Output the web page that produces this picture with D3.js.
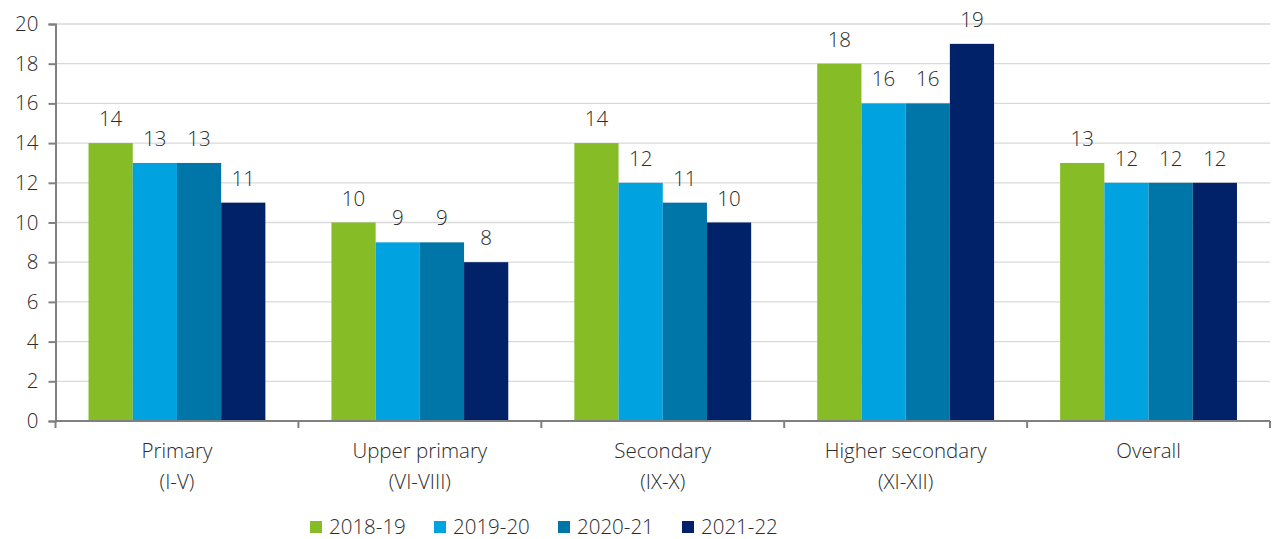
<!DOCTYPE html>
<html>
<head>
<meta charset="utf-8">
<script src="https://cdn.jsdelivr.net/npm/d3@7"></script>
<style>
  body { margin: 0; background: #fff; }
  svg text { font-family: "Open Sans", sans-serif; font-weight: 300; fill: #2b2b2b; }
</style>
</head>
<body>
<div id="chart"></div>
<script>
// Chart data
var categories = [["Primary", "(I-V)"], ["Upper primary", "(VI-VIII)"], ["Secondary", "(IX-X)"], ["Higher secondary", "(XI-XII)"], ["Overall", ""]];
var seriesNames = ["2018-19", "2019-20", "2020-21", "2021-22"];
var seriesColors = ["#86bc25", "#00a3e0", "#0076a8", "#012169"];
var values2018 = [14, 10, 14, 18, 13];
var values2019 = [13, 9, 12, 16, 12];
var values2020 = [13, 9, 11, 16, 12];
var values2021 = [11, 8, 10, 19, 12];
var yTicks = [0, 2, 4, 6, 8, 10, 12, 14, 16, 18, 20];

var allSeries = [values2018, values2019, values2020, values2021];

// SVG size
var svgWidth = 1274;
var svgHeight = 539;
var margin = { top: 24, right: 4, bottom: 118, left: 55.5 };
var plotWidth = svgWidth - margin.left - margin.right;
var plotHeight = svgHeight - margin.top - margin.bottom;
var fontSize = 20.5;

var svg = d3.select("#chart").append("svg")
  .attr("width", svgWidth)
  .attr("height", svgHeight);

var g = svg.append("g")
  .attr("transform", `translate(${margin.left},${margin.top})`);

// Scales
var x0 = d3.scaleBand()
  .domain(d3.range(categories.length))
  .range([0, plotWidth])
  .paddingInner(0.272)
  .paddingOuter(0.136);

var bandStep = plotWidth / categories.length;
var x1 = d3.scaleBand()
  .domain(d3.range(seriesNames.length))
  .range([0, x0.bandwidth()]);

var y = d3.scaleLinear().domain([0, 20]).range([plotHeight, 0]);

// Gridlines
g.selectAll(".grid").data(yTicks.slice(1)).enter().append("line")
  .attr("x1", 0).attr("x2", plotWidth)
  .attr("y1", d => y(d)).attr("y2", d => y(d))
  .attr("stroke", "#d9d9d9").attr("stroke-width", 1.3);

// Bars
allSeries.forEach((vals, s) => {
  g.selectAll(".bar" + s).data(vals).enter().append("rect")
    .attr("x", (d, i) => x0(i) + x1(s))
    .attr("y", d => y(d))
    .attr("width", x1.bandwidth())
    .attr("height", d => plotHeight - y(d))
    .attr("fill", seriesColors[s]);

  g.selectAll(".label" + s).data(vals).enter().append("text")
    .attr("x", (d, i) => x0(i) + x1(s) + x1.bandwidth() / 2)
    .attr("y", d => y(d) - 17)
    .attr("text-anchor", "middle")
    .attr("font-size", fontSize)
    .text(d => d);
});

// Y axis
var yAxis = g.append("g")
  .call(d3.axisLeft(y).tickValues(yTicks).tickSize(7).tickPadding(10));
yAxis.select(".domain").attr("stroke", "#808080").attr("stroke-width", 2);
yAxis.selectAll(".tick line").attr("stroke", "#808080").attr("stroke-width", 2);
yAxis.selectAll("text").attr("font-size", fontSize)
  .style("font-family", "Open Sans, sans-serif").style("font-weight", 300).attr("fill", "#2b2b2b");

// X axis
var xLine = g.append("g").attr("transform", `translate(0,${plotHeight})`);
xLine.append("line")
  .attr("x1", 0).attr("x2", plotWidth)
  .attr("stroke", "#808080").attr("stroke-width", 2);
xLine.selectAll(".xtick").data(d3.range(categories.length + 1)).enter().append("line")
  .attr("x1", d => d * bandStep).attr("x2", d => d * bandStep)
  .attr("y1", 0).attr("y2", 7)
  .attr("stroke", "#808080").attr("stroke-width", 2);

var catLabels = xLine.selectAll(".cat").data(categories).enter().append("text")
  .attr("x", (d, i) => x0(i) + x0.bandwidth() / 2)
  .attr("y", 37)
  .attr("text-anchor", "middle")
  .attr("font-size", fontSize);
catLabels.append("tspan").attr("x", (d, i) => x0(i) + x0.bandwidth() / 2).text(d => d[0]);
catLabels.append("tspan").attr("x", (d, i) => x0(i) + x0.bandwidth() / 2).attr("dy", 31).text(d => d[1]);

// Legend
var legend = svg.append("g").attr("transform", "translate(310,520)");
var items = legend.selectAll(".item").data(seriesNames).enter().append("g")
  .attr("transform", (d, i) => `translate(${i * 124},0)`);
items.append("rect").attr("y", 1).attr("width", 12).attr("height", 12).attr("fill", (d, i) => seriesColors[i]);
items.append("text").attr("x", 19).attr("y", 13.5).attr("font-size", fontSize).text(d => d);
</script>
</body>
</html>
